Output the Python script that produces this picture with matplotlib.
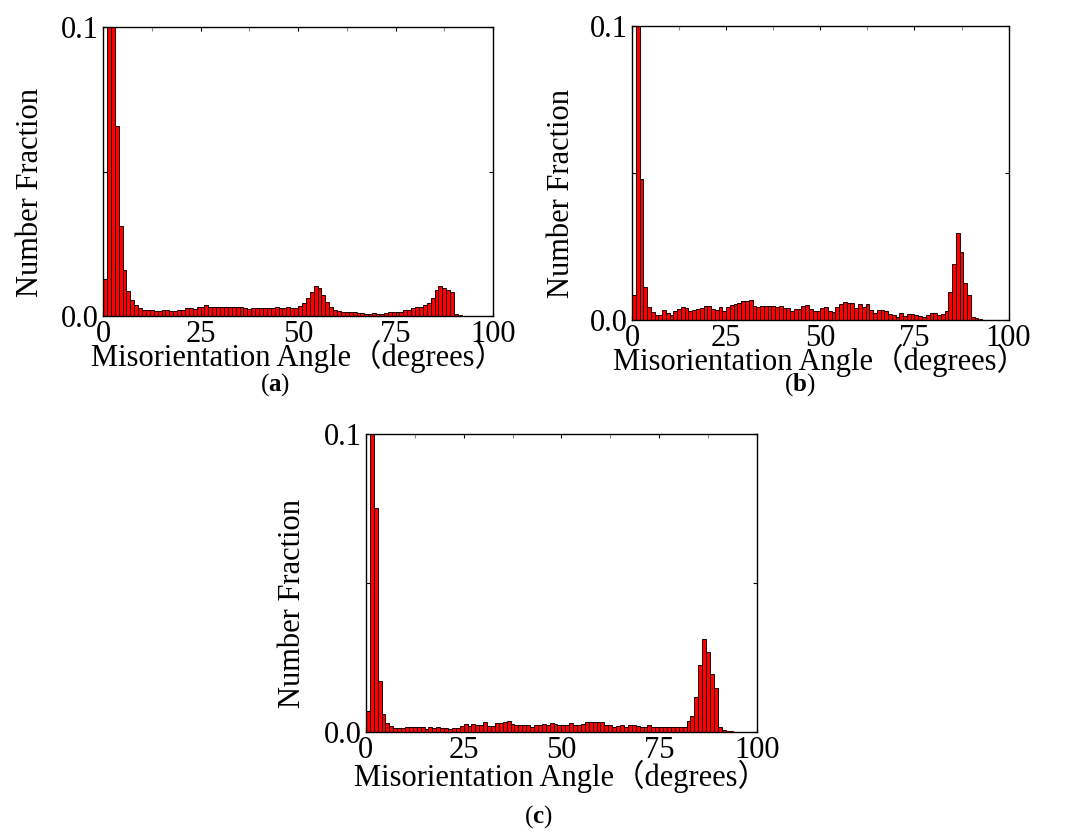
import numpy as np
import matplotlib
matplotlib.use('Agg')
import matplotlib.pyplot as plt
from matplotlib.ticker import MultipleLocator

plt.rcParams['font.family'] = ['Liberation Serif', 'Noto Sans CJK SC']
plt.rcParams['mathtext.fontset'] = 'custom'
plt.rcParams['mathtext.rm'] = 'Liberation Serif'
plt.rcParams['mathtext.bf'] = 'Liberation Serif:bold'

# bin start angles (1 degree bins)
angles = np.arange(94)

# number fraction per bin (bins 1-2 run off the top)
frac_a = [0.0130, 0.13, 0.12, 0.0660, 0.0313, 0.0159, 0.0087, 0.0055, 0.0040, 0.0029,
          0.0020, 0.0020, 0.0020, 0.0017, 0.0018, 0.0020, 0.0020, 0.0017, 0.0018, 0.0021,
          0.0022, 0.0027, 0.0027, 0.0024, 0.0031, 0.0031, 0.0037, 0.0031, 0.0031, 0.0031,
          0.0030, 0.0032, 0.0030, 0.0030, 0.0030, 0.0031, 0.0029, 0.0025, 0.0028, 0.0027,
          0.0027, 0.0028, 0.0028, 0.0027, 0.0030, 0.0028, 0.0028, 0.0032, 0.0029, 0.0027,
          0.0035, 0.0047, 0.0062, 0.0084, 0.0103, 0.0097, 0.0073, 0.0050, 0.0032, 0.0023,
          0.0018, 0.0016, 0.0013, 0.0014, 0.0015, 0.0012, 0.0012, 0.0008, 0.0008, 0.0012,
          0.0008, 0.0008, 0.0010, 0.0013, 0.0013, 0.0016, 0.0016, 0.0023, 0.0023, 0.0027,
          0.0030, 0.0033, 0.0040, 0.0045, 0.0063, 0.0092, 0.0106, 0.0099, 0.0090, 0.0082,
          0.0006, 0.0003, 0.0001, 0.0001]

frac_b = [0.0084, 0.13, 0.0480, 0.0112, 0.0044, 0.0028, 0.0017, 0.0017, 0.0033, 0.0023,
          0.0016, 0.0032, 0.0037, 0.0043, 0.0040, 0.0031, 0.0034, 0.0036, 0.0040, 0.0049,
          0.0049, 0.0036, 0.0035, 0.0043, 0.0029, 0.0043, 0.0052, 0.0056, 0.0057, 0.0063,
          0.0065, 0.0068, 0.0048, 0.0043, 0.0049, 0.0049, 0.0049, 0.0049, 0.0045, 0.0048,
          0.0041, 0.0041, 0.0032, 0.0039, 0.0039, 0.0049, 0.0051, 0.0037, 0.0032, 0.0032,
          0.0040, 0.0045, 0.0031, 0.0026, 0.0045, 0.0053, 0.0060, 0.0059, 0.0059, 0.0040,
          0.0054, 0.0045, 0.0054, 0.0034, 0.0023, 0.0034, 0.0035, 0.0032, 0.0022, 0.0018,
          0.0011, 0.0023, 0.0014, 0.0019, 0.0022, 0.0018, 0.0015, 0.0009, 0.0016, 0.0025,
          0.0025, 0.0016, 0.0019, 0.0032, 0.0095, 0.0190, 0.0295, 0.0230, 0.0125, 0.0085,
          0.0011, 0.0006, 0.0002, 0.0001]

frac_c = [0.0069, 0.13, 0.0750, 0.0170, 0.0062, 0.0030, 0.0019, 0.0012, 0.0013, 0.0013,
          0.0016, 0.0016, 0.0017, 0.0018, 0.0018, 0.0010, 0.0017, 0.0013, 0.0016, 0.0013,
          0.0012, 0.0010, 0.0013, 0.0013, 0.0019, 0.0026, 0.0021, 0.0027, 0.0025, 0.0025,
          0.0034, 0.0020, 0.0020, 0.0029, 0.0031, 0.0034, 0.0037, 0.0026, 0.0022, 0.0023,
          0.0023, 0.0023, 0.0017, 0.0022, 0.0022, 0.0027, 0.0023, 0.0030, 0.0027, 0.0023,
          0.0023, 0.0023, 0.0030, 0.0023, 0.0023, 0.0027, 0.0035, 0.0034, 0.0034, 0.0032,
          0.0035, 0.0025, 0.0022, 0.0018, 0.0020, 0.0022, 0.0017, 0.0022, 0.0025, 0.0020,
          0.0017, 0.0018, 0.0023, 0.0016, 0.0018, 0.0018, 0.0018, 0.0017, 0.0017, 0.0018,
          0.0017, 0.0017, 0.0038, 0.0053, 0.0117, 0.0226, 0.0312, 0.0267, 0.0196, 0.0148,
          0.0018, 0.0008, 0.0004, 0.0002]

xticks = [0, 25, 50, 75, 100]
yticks = [0.0, 0.05, 0.1]
ytick_labels = ['0.0', '', '0.1']
xlabel = 'Misorientation Angle（degrees）'
ylabel = 'Number Fraction'

fig = plt.figure(figsize=(10.73, 8.32), dpi=100)

# data, axes rect, panel tag, tag position, xlabel pad
panels = [
    (frac_a, [0.096, 0.620, 0.3635, 0.347], 'a', (0.2563, 0.538), -7),
    (frac_b, [0.589, 0.6154, 0.351, 0.3534], 'b', (0.7456, 0.538), -7),
    (frac_c, [0.341, 0.1202, 0.3644, 0.3582], 'c', (0.5014, 0.018), -4),
]

for frac, rect, tag, pos, xpad in panels:
    ax = fig.add_axes(rect)
    ax.bar(angles, frac, width=1, align='edge', color='#ff0000',
           edgecolor='#1a0000', linewidth=0.7)
    ax.set_xlim(0, 100)
    ax.set_ylim(0, 0.1)
    ax.set_xticks(xticks)
    ax.set_yticks(yticks)
    ax.set_yticklabels(ytick_labels)
    ax.xaxis.set_minor_locator(MultipleLocator(12.5))
    ax.tick_params(which='major', direction='in', length=3, width=0.8,
                   top=True, right=True, labelsize=22, pad=3)
    ax.tick_params(which='minor', direction='in', length=3, width=0.8,
                   bottom=False, top=True, color='#888888')
    for sp in ax.spines.values():
        sp.set_linewidth(1.0)
    ax.set_xlabel(xlabel, fontsize=22, labelpad=xpad)
    ax.set_ylabel(ylabel, fontsize=22)
    ax.yaxis.set_label_coords(-0.15, 0.43)
    fig.text(pos[0], pos[1], r'($\mathbf{' + tag + r'}$)', fontsize=18,
             ha='center', va='center')

fig.savefig('out.png', dpi=100)
